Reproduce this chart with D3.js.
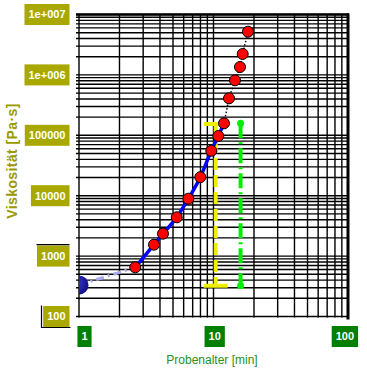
<!DOCTYPE html>
<html>
<head>
<meta charset="utf-8">
<script src="https://cdn.jsdelivr.net/npm/d3@7"></script>
<style>
  body { margin: 0; background: #fff; }
  svg { display: block; font-family: "Liberation Sans", Arial, sans-serif; }
</style>
</head>
<body>
<svg id="chart" width="367" height="374"></svg>
<script>
// Measured points: sample age [min] vs viscosity [Pa·s]
const ageMin = [2.62, 3.61, 4.21, 5.33, 6.50, 7.98, 9.63, 10.86, 11.97, 13.04, 14.45, 15.74, 16.48, 18.05];
const viscosity = [652, 1545, 2350, 4390, 8920, 20250, 55400, 97300, 158000, 410000, 814000, 1350000, 2220000, 5190000];

// Fitted (blue) part and its dotted continuation
const fitAge = [2.62, 3.61, 4.21, 5.33, 6.50, 7.98, 9.63, 10.86, 11.97];
const fitVisc = [652, 1545, 2350, 4390, 8920, 20250, 55400, 97300, 158000];
const tailAge = [11.97, 13.04, 14.45, 15.74, 16.48, 18.05];
const tailVisc = [158000, 410000, 814000, 1350000, 2220000, 5190000];

// Extrapolation back to t = 1 min
const startAge = [1, 2.62];
const startVisc = [332, 652];

// Vertical marker bars (yellow, green)
const markerAge = [10.38, 15.9];
const markerLow = [324, 324];
const markerHigh = [154000, 158000];

const xTickLabels = [1, 10, 100];
const yTickLabels = [1e7, 1e6, 1e5, 1e4, 1000, 100];
const yLabelText = ["1e+007", "1e+006", "100000", "10000", "1000", "100"];

const svg = d3.select("#chart");

const x = d3.scaleLog().domain([1, 100]).range([79, 348]);
const y = d3.scaleLog().domain([100, 1e7]).range([316.5, 14.5]);

// clip for the plot area
svg.append("defs").append("clipPath").attr("id", "plotClip")
    .append("rect")
    .attr("x", x(1)).attr("y", y(1e7))
    .attr("width", x(100) - x(1)).attr("height", y(100) - y(1e7));

// Grid
const grid = svg.append("g").attr("stroke", "#000").attr("stroke-width", 1.4);
grid.selectAll("line.h")
    .data(y.ticks())
    .join("line")
    .attr("x1", x(1) - 3).attr("x2", x(100))
    .attr("y1", d => y(d)).attr("y2", d => y(d));
grid.selectAll("line.v")
    .data(x.ticks())
    .join("line")
    .attr("x1", d => x(d)).attr("x2", d => x(d))
    .attr("y1", y(1e7)).attr("y2", y(100) + 1);

// frame (top and right are heavier)
svg.append("line")
    .attr("x1", x(1) - 3).attr("x2", x(100) + 1)
    .attr("y1", y(1e7)).attr("y2", y(1e7))
    .attr("stroke", "#000").attr("stroke-width", 2.5);
svg.append("line")
    .attr("x1", x(100)).attr("x2", x(100))
    .attr("y1", y(1e7) - 1).attr("y2", y(100) + 3)
    .attr("stroke", "#000").attr("stroke-width", 3);

const plot = svg.append("g").attr("clip-path", "url(#plotClip)");

// start point (half visible)
const grad = svg.select("defs").append("radialGradient").attr("id", "blueBall")
    .attr("cx", "35%").attr("cy", "40%").attr("r", "65%");
grad.append("stop").attr("offset", "0%").attr("stop-color", "#3a3ac8");
grad.append("stop").attr("offset", "100%").attr("stop-color", "#10108a");

const line = d3.line().x(d => x(d[0])).y(d => y(d[1]));

plot.append("path")
    .datum(d3.zip(startAge, startVisc))
    .attr("d", line)
    .attr("fill", "none")
    .attr("stroke", "#aaaaf0")
    .attr("stroke-width", 3)
    .attr("stroke-dasharray", "8,4,2,4");

plot.append("circle")
    .attr("cx", x(startAge[0])).attr("cy", y(startVisc[0]))
    .attr("r", 9.5)
    .attr("fill", "url(#blueBall)");

// yellow marker bar
const yBar = plot.append("g").attr("stroke", "#eeee00").attr("stroke-width", 4);
yBar.append("line")
    .attr("x1", x(markerAge[0])).attr("x2", x(markerAge[0]))
    .attr("y1", y(markerHigh[0])).attr("y2", y(markerLow[0]))
    .attr("stroke-dasharray", "12,5");
yBar.selectAll("line.cap")
    .data([markerHigh[0], markerLow[0]])
    .join("line")
    .attr("x1", x(markerAge[0]) - 12).attr("x2", x(markerAge[0]) + 12)
    .attr("y1", d => y(d)).attr("y2", d => y(d));

// green marker bar
const gBar = plot.append("g");
gBar.append("line")
    .attr("x1", x(markerAge[1])).attr("x2", x(markerAge[1]))
    .attr("y1", y(markerHigh[1])).attr("y2", y(markerLow[1]))
    .attr("stroke", "#00ee00").attr("stroke-width", 4)
    .attr("stroke-dasharray", "15,4,2,4");
gBar.selectAll("circle")
    .data([markerHigh[1], markerLow[1]])
    .join("circle")
    .attr("cx", x(markerAge[1])).attr("cy", d => y(d))
    .attr("r", 3.5).attr("fill", "#00ee00");

// dotted continuation
plot.append("path")
    .datum(d3.zip(tailAge, tailVisc))
    .attr("d", line)
    .attr("fill", "none")
    .attr("stroke", "#000")
    .attr("stroke-width", 1.5)
    .attr("stroke-dasharray", "1.5,2");

// blue fit line
plot.append("path")
    .datum(d3.zip(fitAge, fitVisc))
    .attr("d", d3.line().curve(d3.curveMonotoneX).x(d => x(d[0])).y(d => y(d[1])))
    .attr("fill", "none")
    .attr("stroke", "#0000ff")
    .attr("stroke-width", 3.5);

// measured points
plot.selectAll("circle.pt")
    .data(d3.zip(ageMin, viscosity))
    .join("circle")
    .attr("class", "pt")
    .attr("cx", d => x(d[0])).attr("cy", d => y(d[1]))
    .attr("r", 5.5)
    .attr("fill", "#ff0000")
    .attr("stroke", "#000")
    .attr("stroke-width", 1);

// Y tick labels (olive boxes)
const yl = svg.append("g").selectAll("g")
    .data(yTickLabels)
    .join("g")
    .attr("transform", d => `translate(69.5,${y(d)})`);
yl.append("rect").attr("fill", "#a8a800");
yl.append("text")
    .attr("text-anchor", "end")
    .attr("x", -4).attr("dy", "0.36em")
    .attr("fill", "#fff")
    .attr("font-size", 11).attr("font-weight", "bold")
    .text((d, i) => yLabelText[i]);
yl.each(function() {
    const g = d3.select(this);
    const w = g.select("text").node().getComputedTextLength() + 8;
    g.select("rect").attr("x", -w).attr("y", -10.5).attr("width", w).attr("height", 21);
});
// odd black edges next to the lowest labels
yl.filter(d => d === 1000).append("line")
    .attr("x1", -33).attr("x2", 0).attr("y1", -11.5).attr("y2", -11.5)
    .attr("stroke", "#000").attr("stroke-width", 1.2);
yl.filter(d => d === 100).append("path")
    .attr("d", "M-28,-11V11H1")
    .attr("fill", "none").attr("stroke", "#000").attr("stroke-width", 1.2);

// X tick labels (green boxes), drifting left along the axis
const xl = svg.append("g").selectAll("g")
    .data(xTickLabels)
    .join("g")
    .attr("transform", (d, i) => `translate(${x(d) + 5.5 - 4.3 * i},336.5)`);
xl.append("rect").attr("fill", "#008000");
xl.append("text")
    .attr("text-anchor", "middle")
    .attr("dy", "0.36em")
    .attr("fill", "#fff")
    .attr("font-size", 11).attr("font-weight", "bold")
    .text(d => d);
xl.each(function() {
    const g = d3.select(this);
    const w = g.select("text").node().getComputedTextLength() + 8;
    g.select("rect").attr("x", -w / 2).attr("y", -10.5).attr("width", w).attr("height", 21);
});

// axis titles
svg.append("text")
    .attr("x", 212).attr("y", 364)
    .attr("text-anchor", "middle")
    .attr("font-size", 12)
    .attr("fill", "#259025")
    .text("Probenalter [min]");

svg.append("text")
    .attr("transform", "translate(17,161) rotate(-90)")
    .attr("text-anchor", "middle")
    .attr("font-size", 14).attr("font-weight", "bold")
    .attr("letter-spacing", 0.4)
    .attr("fill", "#9a9a00")
    .text("Viskosität [Pa·s]");
</script>
</body>
</html>
